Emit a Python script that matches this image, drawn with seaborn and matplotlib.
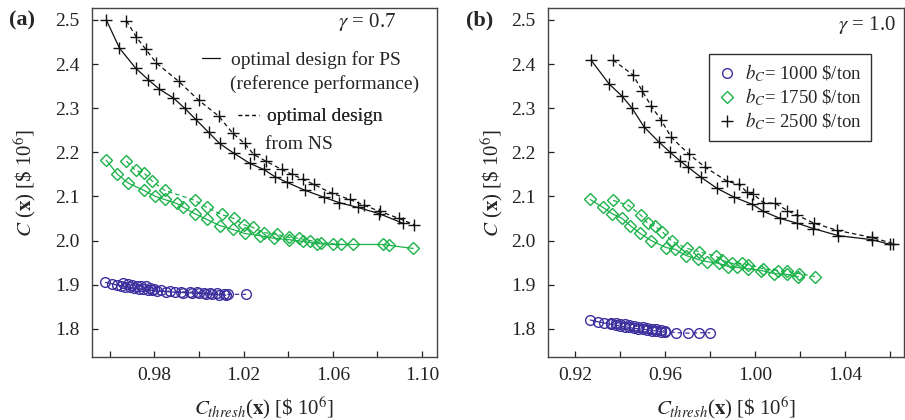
import matplotlib
matplotlib.use("Agg")
import matplotlib.pyplot as plt
from matplotlib.lines import Line2D
import numpy as np
import pandas as pd
import seaborn as sns

sns.set_style("white")
plt.rcParams['font.family'] = ['Liberation Serif', 'DejaVu Serif']
plt.rcParams['mathtext.fontset'] = 'stix'

# ---------------- data: panel (a), gamma = 0.7 ----------------
a_k_ps_x = [0.9584, 0.9643, 0.9715, 0.9773, 0.9822, 0.9885, 0.9935, 0.9984, 1.0043, 1.0092,
            1.0155, 1.0227, 1.0290, 1.0339, 1.0393, 1.0474, 1.0560, 1.0627, 1.0712, 1.0807, 1.0915]
a_k_ps_y = [2.500, 2.436, 2.391, 2.364, 2.343, 2.323, 2.300, 2.275, 2.245, 2.220,
            2.198, 2.175, 2.161, 2.145, 2.132, 2.114, 2.098, 2.086, 2.075, 2.061, 2.039]
a_k_ns_x = [0.9674, 0.9719, 0.9760, 0.9809, 0.9908, 0.9998, 1.0088, 1.0151, 1.0204, 1.0245,
            1.0299, 1.0371, 1.0416, 1.0465, 1.0515, 1.0596, 1.0676, 1.0739, 1.0811, 1.0897, 1.0964]
a_k_ns_y = [2.498, 2.461, 2.434, 2.402, 2.361, 2.318, 2.282, 2.243, 2.220, 2.195,
            2.180, 2.161, 2.150, 2.139, 2.127, 2.107, 2.093, 2.080, 2.066, 2.050, 2.036]

a_g_ps_x = [0.9584, 0.9634, 0.9683, 0.9751, 0.9804, 0.9845, 0.9899, 0.9930, 0.9980, 1.0034,
            1.0092, 1.0151, 1.0204, 1.0272, 1.0335, 1.0402, 1.0465, 1.0528, 1.0600, 1.0690,
            1.0825, 1.0852, 1.0960]
a_g_ps_y = [2.182, 2.150, 2.130, 2.114, 2.100, 2.093, 2.084, 2.075, 2.061, 2.048,
            2.034, 2.025, 2.016, 2.011, 2.005, 2.002, 1.998, 1.993, 1.991, 1.991,
            1.991, 1.989, 1.982]
a_g_ns_x = [0.9674, 0.9715, 0.9755, 0.9791, 0.9845, 0.9980, 1.0034, 1.0101, 1.0155, 1.0200,
            1.0240, 1.0290, 1.0348, 1.0402, 1.0447, 1.0497, 1.0546, 1.0636]
a_g_ns_y = [2.180, 2.159, 2.152, 2.134, 2.114, 2.091, 2.075, 2.059, 2.050, 2.036,
            2.030, 2.018, 2.014, 2.007, 2.005, 2.000, 1.995, 1.991]

a_b_ps_x = [0.958, 0.961, 0.963, 0.965, 0.967, 0.969, 0.971, 0.973, 0.975, 0.977, 0.979,
            0.981, 0.985, 0.989, 0.993, 0.997, 1.000, 1.003, 1.006, 1.009, 1.012]
a_b_ps_y = [1.905, 1.902, 1.899, 1.897, 1.895, 1.894, 1.892, 1.891, 1.889, 1.888, 1.887,
            1.885, 1.884, 1.883, 1.882, 1.881, 1.880, 1.879, 1.878, 1.877, 1.876]
a_b_ns_x = [0.966, 0.968, 0.970, 0.972, 0.974, 0.976, 0.978, 0.980, 0.983, 0.987,
            0.992, 0.996, 0.999, 1.002, 1.005, 1.008, 1.011, 1.013, 1.021]
a_b_ns_y = [1.903, 1.901, 1.899, 1.898, 1.897, 1.896, 1.893, 1.890, 1.887, 1.885,
            1.884, 1.883, 1.883, 1.882, 1.881, 1.880, 1.879, 1.878, 1.878]

# ---------------- data: panel (b), gamma = 1.0 ----------------
b_k_ps_x = [0.9271, 0.9351, 0.9409, 0.9453, 0.9507, 0.9573, 0.9622, 0.9667, 0.9702, 0.9760,
            0.9831, 0.9907, 0.9987, 1.0036, 1.0111, 1.0187, 1.0258, 1.0369, 1.0516, 1.0600]
b_k_ps_y = [2.409, 2.355, 2.327, 2.300, 2.257, 2.223, 2.200, 2.180, 2.166, 2.143,
            2.118, 2.098, 2.082, 2.066, 2.050, 2.039, 2.027, 2.011, 2.002, 1.991]
b_k_ns_x = [0.9369, 0.9458, 0.9498, 0.9538, 0.9582, 0.9627, 0.9707, 0.9778, 0.9876, 0.9929,
            0.9964, 0.9991, 1.0036, 1.0089, 1.0142, 1.0187, 1.0262, 1.0364, 1.0516, 1.0613]
b_k_ns_y = [2.409, 2.375, 2.339, 2.305, 2.273, 2.234, 2.195, 2.166, 2.134, 2.127,
            2.109, 2.105, 2.086, 2.084, 2.068, 2.057, 2.039, 2.023, 2.007, 1.993]

b_g_ps_x = [0.9267, 0.9324, 0.9364, 0.9409, 0.9444, 0.9489, 0.9538, 0.9604, 0.9644, 0.9693,
            0.9747, 0.9787, 0.9840, 0.9880, 0.9920, 0.9969, 1.0027, 1.0084, 1.0142, 1.0191]
b_g_ps_y = [2.093, 2.075, 2.061, 2.050, 2.034, 2.016, 2.000, 1.984, 1.980, 1.966,
            1.957, 1.952, 1.948, 1.941, 1.939, 1.936, 1.932, 1.925, 1.923, 1.918]
b_g_ns_x = [0.9369, 0.9436, 0.9493, 0.9524, 0.9556, 0.9587, 0.9631, 0.9698, 0.9751, 0.9827,
            0.9853, 0.9898, 0.9942, 0.9969, 1.0036, 1.0102, 1.0142, 1.0196, 1.0267]
b_g_ns_y = [2.091, 2.080, 2.057, 2.039, 2.032, 2.020, 1.998, 1.982, 1.975, 1.964,
            1.955, 1.948, 1.948, 1.945, 1.936, 1.932, 1.930, 1.925, 1.918]

b_b_ps_x = [0.9267, 0.9300, 0.9330, 0.9360, 0.9380, 0.9400, 0.9420, 0.9440, 0.9460, 0.9480,
            0.9500, 0.9520, 0.9540, 0.9560, 0.9580, 0.9600]
b_b_ps_y = [1.820, 1.816, 1.813, 1.810, 1.808, 1.806, 1.805, 1.803, 1.801, 1.800,
            1.799, 1.798, 1.796, 1.795, 1.793, 1.792]
b_b_ns_x = [0.9360, 0.9380, 0.9400, 0.9420, 0.9440, 0.9460, 0.9480, 0.9500, 0.9520, 0.9540,
            0.9560, 0.9580, 0.9600, 0.9650, 0.9700, 0.9750, 0.9800]
b_b_ns_y = [1.814, 1.812, 1.811, 1.810, 1.808, 1.806, 1.805, 1.803, 1.801, 1.800,
            1.799, 1.797, 1.795, 1.791, 1.790, 1.791, 1.791]

bc_labels = ["$b_C$= 1000 \\$/ton", "$b_C$= 1750 \\$/ton", "$b_C$= 2500 \\$/ton"]
gamma_labels = ["$\\gamma$ = 0.7", "$\\gamma$ = 1.0"]
design_labels = [("optimal design for PS", "(reference performance)"),
                 ("optimal design", "from NS")]

BLUE = "#3d2f9e"
GREEN = "#1cb24a"
BLACK = "#111111"

series_style = {
    "b": dict(color=BLUE, marker="o", ms=7.0),
    "g": dict(color=GREEN, marker="D", ms=6.0),
    "k": dict(color=BLACK, marker="+", ms=8.0),
}

fig = plt.figure(figsize=(9.05, 4.2), dpi=100)
axA = fig.add_axes([0.1017, 0.15, 0.3812, 0.831])
axB = fig.add_axes([0.6055, 0.15, 0.3934, 0.831])

panel_data = {
    axA: {
        "k": ((a_k_ps_x, a_k_ps_y), (a_k_ns_x, a_k_ns_y)),
        "g": ((a_g_ps_x, a_g_ps_y), (a_g_ns_x, a_g_ns_y)),
        "b": ((a_b_ps_x, a_b_ps_y), (a_b_ns_x, a_b_ns_y)),
    },
    axB: {
        "k": ((b_k_ps_x, b_k_ps_y), (b_k_ns_x, b_k_ns_y)),
        "g": ((b_g_ps_x, b_g_ps_y), (b_g_ns_x, b_g_ns_y)),
        "b": ((b_b_ps_x, b_b_ps_y), (b_b_ns_x, b_b_ns_y)),
    },
}

for ax, d in panel_data.items():
    for key, (ps, ns) in d.items():
        st = series_style[key]
        for (xs, ys), ls in ((ps, "-"), (ns, (0, (3.5, 2.5)))):
            df = pd.DataFrame({"x": xs, "y": ys})
            sns.lineplot(data=df, x="x", y="y", ax=ax, sort=False, estimator=None,
                         color=st["color"], linewidth=0.9, linestyle=ls,
                         marker=st["marker"], markersize=st["ms"],
                         markerfacecolor="none", markeredgecolor=st["color"],
                         markeredgewidth=1.0, legend=False)

for ax in (axA, axB):
    ax.set_ylim(1.736, 2.527)
    ax.set_yticks([1.8, 1.9, 2.0, 2.1, 2.2, 2.3, 2.4, 2.5])
    ax.set_yticklabels(["1.8", "1.9", "2.0", "2.1", "2.2", "2.3", "2.4", "2.5"])
    ax.tick_params(direction="in", length=4, width=0.9, labelsize=14, colors="#222222",
                   top=False, right=False, left=True, bottom=True)
    ax.tick_params(axis="y", pad=9)
    ax.tick_params(axis="x", pad=7)
    for sp in ax.spines.values():
        sp.set_color("#444444")
        sp.set_linewidth(1.0)
    ax.set_xlabel("$C_{thresh}$($\\mathbf{x}$) [\\$ 10$^6$]", fontsize=15, labelpad=8)
    ax.grid(False)

axA.set_xlim(0.952, 1.1067)
axA.set_xticks([0.96, 0.98, 1.00, 1.02, 1.04, 1.06, 1.08, 1.10])
axA.set_xticklabels(["", "0.98", "", "1.02", "", "1.06", "", "1.10"])
axB.set_xlim(0.908, 1.066)
axB.set_xticks([0.92, 0.94, 0.96, 0.98, 1.00, 1.02, 1.04, 1.06])
axB.set_xticklabels(["0.92", "", "0.96", "", "1.00", "", "1.04", ""])

axA.set_ylabel("$C$ ($\\mathbf{x}$) [\\$ 10$^6$]", fontsize=15, labelpad=12)
axB.set_ylabel("$C$ ($\\mathbf{x}$) [\\$ 10$^6$]", fontsize=15, labelpad=4)

axA.text(0.797, 0.96, gamma_labels[0], transform=axA.transAxes, fontsize=15,
         ha="center", va="center")
axB.text(0.896, 0.951, gamma_labels[1], transform=axB.transAxes, fontsize=15,
         ha="center", va="center")

fig.text(0.024, 0.952, "(a)", fontsize=16, fontweight="bold", ha="center", va="center")
fig.text(0.530, 0.952, "(b)", fontsize=16, fontweight="bold", ha="center", va="center")

# design legends in (a)
leg1 = axA.legend(handles=[Line2D([], [], color=BLACK, lw=0.9)], labels=[design_labels[0][0]],
                  loc="upper left", bbox_to_anchor=(0.319, 0.876), frameon=False,
                  handlelength=0.9, handletextpad=0.6, borderpad=0, borderaxespad=0,
                  fontsize=14)
axA.add_artist(leg1)
axA.text(0.40, 0.782, design_labels[0][1], transform=axA.transAxes, fontsize=14,
         ha="left", va="center")
leg2 = axA.legend(handles=[Line2D([], [], color=BLACK, lw=0.9, linestyle=(0, (3, 2.5)))],
                  labels=[design_labels[1][0]],
                  loc="upper left", bbox_to_anchor=(0.423, 0.714), frameon=False,
                  handlelength=1.1, handletextpad=0.4, borderpad=0, borderaxespad=0,
                  fontsize=14)
axA.add_artist(leg2)
axA.text(0.501, 0.610, design_labels[1][1], transform=axA.transAxes, fontsize=14,
         ha="left", va="center")

# b_C legend in (b)
handles = [Line2D([], [], linestyle="none", marker=series_style[k]["marker"],
                  markersize=series_style[k]["ms"], markerfacecolor="none",
                  markeredgecolor=series_style[k]["color"], markeredgewidth=1.0)
           for k in ("b", "g", "k")]
legB = axB.legend(handles=handles, labels=bc_labels, loc="upper left",
                  bbox_to_anchor=(0.452, 0.868), borderaxespad=0, fontsize=13.5,
                  frameon=True, fancybox=False, edgecolor="black", handlelength=1.0,
                  handletextpad=0.5, borderpad=0.45, labelspacing=0.12)
legB.get_frame().set_linewidth(1.0)

fig.savefig("out.png", dpi=100)
